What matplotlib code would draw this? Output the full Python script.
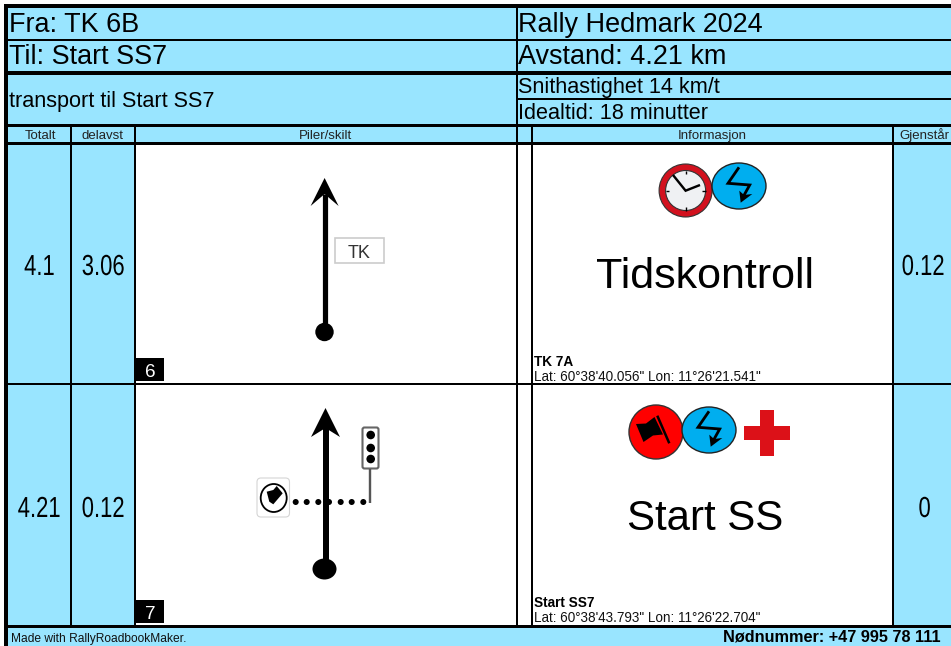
import matplotlib
matplotlib.use("Agg")
import matplotlib.pyplot as plt
from matplotlib.patches import Rectangle, Circle, Ellipse, Polygon, FancyBboxPatch
from matplotlib.patheffects import AbstractPathEffect
from matplotlib.transforms import Affine2D

BLUE = "#99E5FF"
W, H = 951, 646

# texts
top_left = ["Fra: TK 6B", "Til: Start SS7", "transport til Start SS7"]
top_right = ["Rally Hedmark 2024", "Avstand: 4.21 km", "Snithastighet 14 km/t", "Idealtid: 18 minutter"]
col_names = ["Totalt", "delavst", "Piler/skilt", "Informasjon", "Gjenstår"]
totalt = ["4.1", "4.21"]
delavst = ["3.06", "0.12"]
gjenstar = ["0.12", "0"]
row_no = ["6", "7"]
big_text = ["Tidskontroll", "Start SS"]
info_title = ["TK 7A", "Start SS7"]
info_pos = ["Lat: 60°38'40.056\" Lon: 11°26'21.541\"", "Lat: 60°38'43.793\" Lon: 11°26'22.704\""]
footer_left = "Made with RallyRoadbookMaker."
footer_right = "Nødnummer: +47 995 78 111"

fig = plt.figure(figsize=(W / 100, H / 100), dpi=100)
ax = fig.add_axes([0, 0, 1, 1])
ax.set_xlim(0, W); ax.set_ylim(H, 0); ax.axis("off")


class Narrow(AbstractPathEffect):
    # squeeze right-aligned glyphs sideways, the distance cells use a condensed face
    def __init__(self, sx):
        super().__init__()
        self.sx = sx

    def draw_path(self, renderer, gc, tpath, affine, rgbFace=None):
        w = tpath.get_extents().x1
        squeeze = Affine2D().scale(self.sx, 1).translate((1 - self.sx) * w, 0)
        renderer.draw_path(gc, tpath, squeeze + affine, rgbFace)


def box(x0, y0, x1, y1, color, z=1):
    ax.add_patch(Rectangle((x0, y0), x1 - x0, y1 - y0, fc=color, ec="none", zorder=z))


def txt(x, y, s, px, ha="left", color="black", weight="normal"):
    return ax.text(x, y, s, fontsize=px * 0.72, ha=ha, va="baseline", color=color,
                   fontweight=weight, family="Liberation Sans", zorder=5)


def line(xs, ys, lw=2, color="black", z=4):
    ax.plot(xs, ys, color=color, lw=lw * 0.72, solid_capstyle="butt", solid_joinstyle="miter", zorder=z)


# backgrounds
box(8, 8, W, 144, BLUE)
box(8, 144, 135, 627, BLUE)
box(892, 144, W, 627, BLUE)
box(8, 627, W, H, BLUE)

# black grid
box(4, 4, W, 8, "black", 2)
box(4, 4, 8, H, "black", 2)
for y0, y1 in [(39, 41), (71, 74.6), (124, 127), (142, 144.5), (383, 385), (625, 627.5)]:
    box(8, y0, W, y1, "black", 2)
box(517.5, 98, W, 99.5, "black", 2)
for x0, x1, y0, y1 in [(516, 518, 8, 627), (69.5, 71.5, 126, 627), (134, 136, 126, 627),
                       (531, 533, 126, 627), (892, 894, 126, 627)]:
    box(x0, y0, x1, y1, "black", 2)

# header texts
txt(9, 32.5, top_left[0], 27)
txt(9, 64.5, top_left[1], 27)
txt(9, 106.5, top_left[2], 21.7)
txt(518, 32.5, top_right[0], 27)
txt(518, 64.5, top_right[1], 27)
txt(518, 92.5, top_right[2], 21.6)
txt(518, 119, top_right[3], 21.6)
for x, s in zip([40.5, 103, 326, 712.5, 924], col_names):
    txt(x, 139, s, 13.3, ha="center", color="#222222")

# distance cells, x is the right edge of the squeezed text
for x, y, s in [(55, 275, totalt[0]), (61, 517, totalt[1]),
                (125, 275, delavst[0]), (125, 517, delavst[1]),
                (945, 275, gjenstar[0]), (931, 517, gjenstar[1])]:
    txt(x, y, s, 29, ha="right").set_path_effects([Narrow(0.76)])

for y0, base, s in [(358, 377, row_no[0]), (600, 619, row_no[1])]:
    box(135, y0, 164, y0 + 22.5, "black", 3)
    txt(150, base, s, 19, ha="center", color="white")

txt(705, 288, big_text[0], 43, ha="center")
txt(705, 530, big_text[1], 42, ha="center")
for y, t, p in [(366, info_title[0], info_pos[0]), (607, info_title[1], info_pos[1])]:
    txt(534, y, t, 13.6, weight="bold")
    txt(534, y + 15, p, 13.5, color="#111111")

txt(11, 642, footer_left, 12, color="#111111")
txt(723, 642, footer_right, 16.3, weight="bold")


def arrow(x, tip, base, barb_y, notch_y, half, lw):
    line([x, x], [base, notch_y], lw)
    ax.add_patch(Polygon([(x, tip), (x + half, barb_y), (x, notch_y), (x - half, barb_y)],
                         fc="black", ec="none", zorder=4))


# first sign: arrow and TK plate
arrow(324.6, 178, 332, 206, 194, 14, 5.2)
ax.add_patch(Circle((324.5, 332), 9.2, fc="black", ec="none", zorder=4))
ax.add_patch(Rectangle((334.5, 237.5), 49, 25.5, fc="white", ec="#cccccc", lw=1.2, zorder=3))
txt(359, 257.5, "TK", 18, ha="center", color="#333333")

# second sign: arrow, dots, lights and flag plate
arrow(325.5, 408, 569, 437, 428, 14.5, 6)
ax.add_patch(Ellipse((324.5, 569), 24, 21, fc="black", ec="none", zorder=4))
dot_x = [295.7, 306.7, 318.3, 329, 340.7, 351.7, 363.3]
for x in dot_x:
    ax.add_patch(Circle((x, 502), 3, fc="black", ec="none", zorder=4))
line([370.2, 370.2], [469, 503], 2.4, "#555555")
ax.add_patch(FancyBboxPatch((362.5, 427.5), 16, 41, boxstyle="round,pad=0,rounding_size=2",
                            fc="white", ec="#666666", lw=1.5, zorder=3))
for y in [435, 448, 459]:
    ax.add_patch(Circle((370.7, y), 4.3, fc="black", ec="none", zorder=4))
ax.add_patch(FancyBboxPatch((257, 478), 32.5, 39, boxstyle="round,pad=0,rounding_size=4",
                            fc="white", ec="#d5d5d5", lw=0.8, zorder=3))
ax.add_patch(Ellipse((273.7, 498), 26, 28, fc="white", ec="black", lw=1.3, zorder=4))
ax.add_patch(Polygon([(266.7, 491.7), (273.3, 490), (276.7, 486), (282.7, 493.3), (273.3, 504.3), (269.3, 501.7)],
                     fc="black", ec="none", zorder=5))


def bolt(cx, cy):
    ax.add_patch(Ellipse((cx, cy), 54, 46, fc="#00AEEF", ec="#222222", lw=1, zorder=3))
    line([cx, cx - 11, cx + 10.7, cx + 3.5], [cy - 18.7, cy - 2.7, cy - 1, cy + 12], 2.8)
    ax.add_patch(Polygon([(cx + 1.7, cy + 16.7), (cx + 0.3, cy + 4.7), (cx + 5, cy + 9), (cx + 13.3, cy + 8)],
                         fc="black", ec="none", zorder=4))


# clock
ax.add_patch(Circle((685.6, 190.5), 26.5, fc="#D2111E", ec="#333333", lw=0.8, zorder=3))
ax.add_patch(Circle((685.6, 190.5), 20, fc="#EFF1F3", ec="#333333", lw=0.8, zorder=4))
line([673, 685.6, 700], [175, 190.7, 185], 2.4)
for a, b, c, d in [(685.6, 170.5, 685.6, 174), (685.6, 207, 685.6, 210.5), (665.6, 190.5, 669, 190.5), (702, 190.5, 705.6, 190.5)]:
    line([a, c], [b, d], 1.4)
bolt(739, 186)

# flag, bolt, cross
ax.add_patch(Circle((656, 432), 27, fc="#FF0000", ec="#333333", lw=1, zorder=3))
ax.add_patch(Polygon([(636, 424), (646, 423.5), (654.5, 417), (663, 434.5), (653, 435.5), (643.5, 442)],
                     fc="black", ec="none", zorder=4))
line([657.3, 669.3], [415.7, 443.3], 2.5)
bolt(709, 430)
box(744, 426, 790, 440, "#DC1118", 3)
box(760, 410, 774, 456, "#DC1118", 3)

fig.savefig("out.png", dpi=100)
